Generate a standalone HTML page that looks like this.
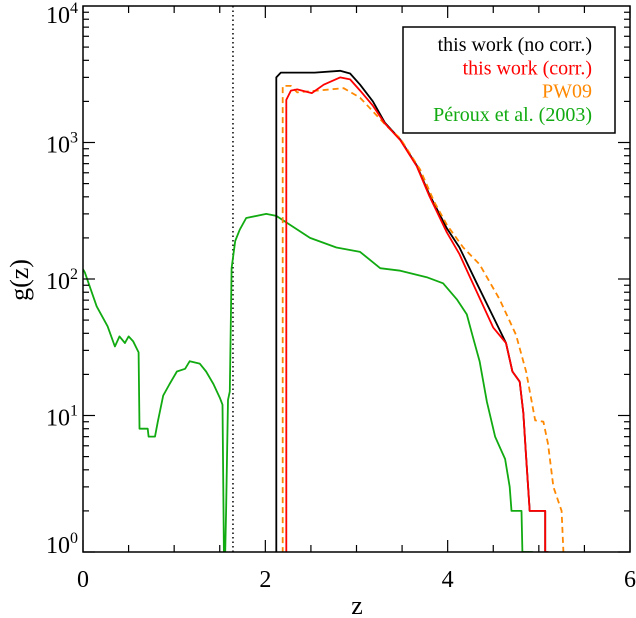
<!DOCTYPE html>
<html><head><meta charset="utf-8"><style>
html,body{margin:0;padding:0;background:#fff;}
svg{display:block;font-family:"Liberation Serif",serif;}
</style></head><body>
<svg id="chart" width="636" height="618" viewBox="0 0 636 618"></svg>
<script>
const xTicks=[0,2,4,6];
const yTicks=[0,1,2,3,4];
const zBlack=[2.12,2.12,2.12,2.17,2.54,2.82,2.93,3.04,3.18,3.31,3.48,3.66,3.80,3.99,4.13,4.32,4.53,4.64,4.71,4.79,4.83,4.86,4.90,5.07,5.07,5.08];
const gBlack=[0.5,100,3000,3250,3250,3350,3200,2650,2000,1400,1050,680,415,235,170,93,48,34,21,17.7,10.5,5,2,2,1,0.5];
const zRed=[2.23,2.23,2.23,2.28,2.35,2.51,2.64,2.82,2.93,3.04,3.18,3.31,3.48,3.66,3.80,3.99,4.13,4.24,4.50,4.64,4.71,4.79,4.83,4.86,4.90,5.07,5.07,5.10,5.10];
const gRed=[0.5,66,2050,2400,2450,2300,2650,3000,2900,2400,1860,1380,1040,670,405,220,152,105,44,34,21,17.7,10.5,5,2,2,1,1,0.5];
const zOrange=[2.19,2.19,2.28,2.35,2.86,3.04,3.33,3.48,3.70,3.85,3.99,4.17,4.35,4.57,4.75,4.86,4.96,5.05,5.10,5.16,5.25,5.27,5.27];
const gOrange=[0.5,2600,2600,2330,2500,2130,1320,1070,630,370,250,170,128,71,39,21,9.2,9,6.2,3,2,1,0.5];
const zGreen=[0.0,0.02,0.15,0.27,0.35,0.40,0.46,0.50,0.55,0.61,0.62,0.71,0.72,0.79,0.82,0.88,0.95,1.03,1.12,1.17,1.28,1.35,1.43,1.50,1.53,1.55,1.57,1.59,1.61,1.63,1.67,1.72,1.79,2.01,2.12,2.27,2.49,2.78,3.04,3.26,3.48,3.77,3.95,4.10,4.21,4.27,4.35,4.43,4.52,4.57,4.63,4.68,4.70,4.81,4.82,4.93,4.93];
const gGreen=[118,112,63,45,32,38,34,38,35,29,8,8,7,7,9,14,17,21,22,25,24,21,17,13.5,12,0.5,2,13,15,120,190,230,280,300,290,250,200,170,158,120,115,103,93,71,55,39,25,12.6,7,5.9,4.8,3,2,2,1,1,0.5];
const legendLabels=["this work (no corr.)","this work (corr.)","PW09","Péroux et al. (2003)"];
const legendColors=["#000","#f00","#f80","#1a1"];

const NS="http://www.w3.org/2000/svg";
const svg=document.getElementById("chart");
const L=83,R=630,T=6,B=552;
const X=z=>L+(z-0)/6*(R-L);
const Y=g=>B-(Math.log10(Math.max(g,0.3)))/4*(B-T);
function mk(tag,attrs,parent){const e=document.createElementNS(NS,tag);for(const k in attrs)e.setAttribute(k,attrs[k]);(parent||svg).appendChild(e);return e;}

const defs=mk("defs",{});
const cp=mk("clipPath",{id:"plotclip"},defs);
mk("rect",{x:L,y:T,width:R-L,height:B-T},cp);

const plot=mk("g",{"clip-path":"url(#plotclip)"});



const dl=mk("line",{x1:X(1.645),x2:X(1.645),y1:T,y2:B,stroke:"#000","stroke-width":1.5,"stroke-dasharray":"1.5,3"},plot);



function series(zs,gs,color,name,dash){
  const d=zs.map((z,i)=>(i?"L":"M")+X(z).toFixed(1)+","+Y(gs[i]).toFixed(1)).join(" ");
  const p=mk("path",{d:d,fill:"none",stroke:color,"stroke-width":1.8,"stroke-linejoin":"round"},plot);
  if(dash)p.setAttribute("stroke-dasharray",dash);
  
  
}
series(zGreen,gGreen,"#1a1","series-peroux-2003");
series(zBlack,gBlack,"#000","series-this-work-no-corr");
series(zOrange,gOrange,"#f80","series-pw09","6,4");
series(zRed,gRed,"#f00","series-this-work-corr");

const frame=mk("rect",{x:L,y:T,width:R-L,height:B-T,fill:"none",stroke:"#000","stroke-width":1.5});



for(let v=0;v<=6.001;v+=0.5){
  const major=Math.abs(v-Math.round(v/2)*2)<1e-6;
  const len=major?12:7;
  mk("line",{x1:X(v),x2:X(v),y1:B,y2:B-len,stroke:"#000","stroke-width":1.2});
  mk("line",{x1:X(v),x2:X(v),y1:T,y2:T+len,stroke:"#000","stroke-width":1.2});
}
xTicks.forEach(v=>{
  const t=mk("text",{x:X(v),y:587,"text-anchor":"middle","font-size":24});
  t.textContent=v;
  
  
});
for(let d=0;d<4;d++){for(let m=1;m<=9;m++){
  const g=m*Math.pow(10,d);const len=m===1?12:6;
  mk("line",{x1:L,x2:L+len,y1:Y(g),y2:Y(g),stroke:"#000","stroke-width":1.2});
  mk("line",{x1:R,x2:R-len,y1:Y(g),y2:Y(g),stroke:"#000","stroke-width":1.2});
}}
yTicks.forEach(p=>{
  const off=p===4?17:(p===0?1:10);
  const t=mk("text",{x:78,y:Y(Math.pow(10,p))+off,"text-anchor":"end","font-size":24});
  const a=mk("tspan",{},t);a.textContent="10";
  const b=mk("tspan",{dy:-10,"font-size":16},t);b.textContent=p;
  
  
});
const xt=mk("text",{x:357,y:614,"text-anchor":"middle","font-size":26});
xt.textContent="z";


const yt=mk("text",{x:0,y:0,"text-anchor":"middle","font-size":26,transform:"translate(28,280) rotate(-90)"});
yt.textContent="g(z)";



const lg=mk("g",{});


mk("rect",{x:403,y:27,width:212,height:106,fill:"#fff",stroke:"#000","stroke-width":1.5},lg);
legendLabels.forEach((s,i)=>{
  const t=mk("text",{x:592,y:51+i*23.3,"text-anchor":"end","font-size":20,fill:legendColors[i]},lg);
  t.textContent=s;
  
  
});
</script>
</body></html>
